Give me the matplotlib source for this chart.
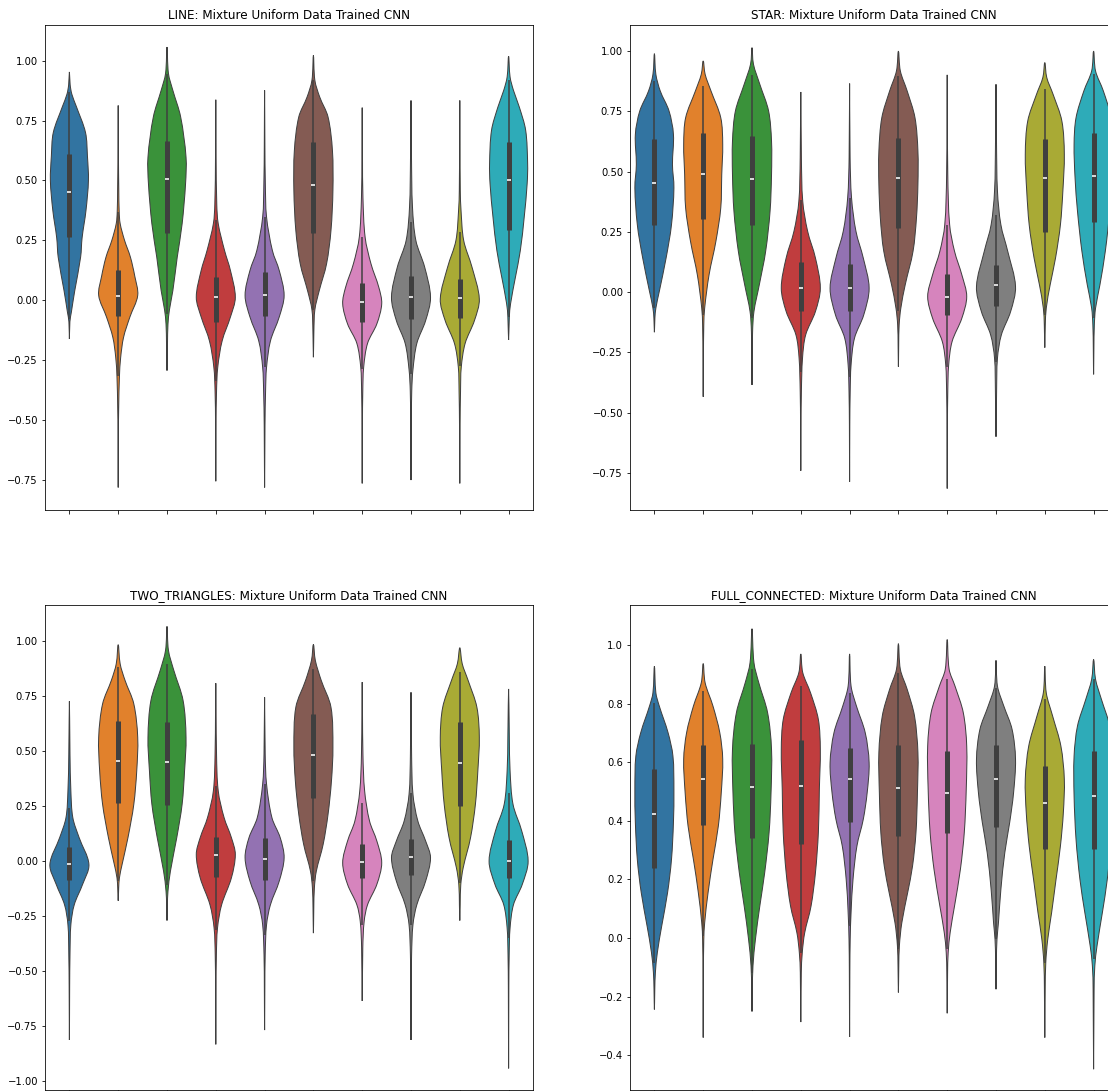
import matplotlib
matplotlib.use("Agg")
import matplotlib.pyplot as plt
import numpy as np
from matplotlib.path import Path
from matplotlib.patches import PathPatch

# seaborn-style desaturated tab10 colours
COLORS = ["#3274a1", "#e1812c", "#3a923a", "#c03d3e", "#9372b2",
          "#845b53", "#d684bd", "#7f7f7f", "#a9aa35", "#2eabb8"]
LINE_COLOR = "#3f3f3f"

TITLES = [
    "LINE: Mixture Uniform Data Trained CNN",
    "STAR: Mixture Uniform Data Trained CNN",
    "TWO_TRIANGLES: Mixture Uniform Data Trained CNN",
    "FULL_CONNECTED: Mixture Uniform Data Trained CNN",
]

# ---- LINE: density profiles (value, half width) and box stats ----
LINE_LEVELS = [
    [-0.162, -0.09, -0.05, 0.04, 0.18, 0.26, 0.375, 0.50, 0.60, 0.70, 0.81, 0.86, 0.90, 0.953],
    [-0.782, -0.55, -0.45, -0.32, -0.24, -0.155, -0.07, 0.02, 0.10, 0.18, 0.25, 0.32, 0.37, 0.46, 0.60, 0.813],
    [-0.294, -0.18, -0.10, -0.04, 0.04, 0.18, 0.319, 0.486, 0.597, 0.765, 0.876, 0.946, 1.057],
    [-0.756, -0.52, -0.38, -0.28, -0.17, -0.07, 0.012, 0.124, 0.207, 0.319, 0.40, 0.60, 0.837],
    [-0.782, -0.52, -0.38, -0.28, -0.17, -0.07, 0.02, 0.124, 0.207, 0.347, 0.486, 0.65, 0.876],
    [-0.238, -0.127, -0.04, 0.04, 0.152, 0.291, 0.458, 0.625, 0.765, 0.848, 0.918, 1.022],
    [-0.765, -0.52, -0.38, -0.28, -0.18, -0.099, -0.015, 0.054, 0.152, 0.263, 0.43, 0.60, 0.804],
    [-0.751, -0.52, -0.38, -0.29, -0.18, -0.085, 0.012, 0.138, 0.249, 0.39, 0.597, 0.834],
    [-0.765, -0.52, -0.38, -0.28, -0.18, -0.085, 0.005, 0.138, 0.249, 0.375, 0.458, 0.65, 0.834],
    [-0.166, -0.07, -0.015, 0.096, 0.207, 0.347, 0.486, 0.57, 0.709, 0.806, 0.876, 0.932, 1.019],
]
LINE_WIDTHS = [
    [0, 0.01, 0.04, 0.11, 0.23, 0.26, 0.34, 0.39, 0.37, 0.33, 0.14, 0.05, 0.015, 0],
    [0, 0.004, 0.01, 0.025, 0.05, 0.11, 0.24, 0.40, 0.34, 0.25, 0.13, 0.04, 0.02, 0.012, 0.005, 0],
    [0, 0.01, 0.02, 0.05, 0.12, 0.21, 0.31, 0.38, 0.39, 0.28, 0.12, 0.03, 0],
    [0, 0.005, 0.015, 0.04, 0.13, 0.30, 0.40, 0.30, 0.18, 0.05, 0.02, 0.006, 0],
    [0, 0.008, 0.02, 0.04, 0.12, 0.30, 0.40, 0.30, 0.16, 0.04, 0.015, 0.006, 0],
    [0, 0.01, 0.03, 0.12, 0.27, 0.36, 0.40, 0.39, 0.30, 0.13, 0.03, 0],
    [0, 0.005, 0.012, 0.03, 0.11, 0.30, 0.40, 0.34, 0.18, 0.06, 0.015, 0.006, 0],
    [0, 0.006, 0.015, 0.04, 0.12, 0.30, 0.40, 0.28, 0.10, 0.03, 0.01, 0],
    [0, 0.006, 0.015, 0.03, 0.11, 0.30, 0.40, 0.25, 0.08, 0.025, 0.01, 0.005, 0],
    [0, 0.015, 0.04, 0.14, 0.24, 0.32, 0.38, 0.39, 0.35, 0.22, 0.10, 0.03, 0],
]
LINE_Q1 = [0.263, -0.068, 0.280, -0.092, -0.064, 0.280, -0.092, -0.078, -0.075, 0.295]
LINE_MED = [0.451, 0.019, 0.507, 0.012, 0.022, 0.479, -0.008, 0.012, 0.010, 0.500]
LINE_Q3 = [0.611, 0.127, 0.664, 0.096, 0.117, 0.660, 0.071, 0.099, 0.089, 0.660]
LINE_WLO = [-0.08, -0.315, -0.057, -0.336, -0.28, -0.04, -0.287, -0.308, -0.273, -0.07]
LINE_WHI = [0.87, 0.367, 0.946, 0.333, 0.347, 0.918, 0.263, 0.326, 0.284, 0.918]

# ---- STAR ----
STAR_LEVELS = [
    [-0.166, -0.108, -0.066, 0.003, 0.142, 0.28, 0.433, 0.530, 0.655, 0.752, 0.835, 0.904, 0.990],
    [-0.434, -0.274, -0.136, -0.066, 0.072, 0.211, 0.35, 0.488, 0.613, 0.724, 0.835, 0.904, 0.960],
    [-0.385, -0.274, -0.163, -0.08, 0.031, 0.17, 0.336, 0.488, 0.627, 0.752, 0.863, 0.946, 1.015],
    [-0.741, -0.55, -0.413, -0.274, -0.177, -0.08, 0.017, 0.142, 0.253, 0.377, 0.558, 0.831],
    [-0.787, -0.55, -0.413, -0.302, -0.191, -0.094, 0.017, 0.142, 0.253, 0.391, 0.558, 0.866],
    [-0.309, -0.22, -0.136, -0.066, 0.031, 0.17, 0.308, 0.447, 0.585, 0.724, 0.835, 0.918, 1.001],
    [-0.815, -0.55, -0.413, -0.302, -0.205, -0.108, -0.018, 0.072, 0.17, 0.28, 0.488, 0.902],
    [-0.60, -0.413, -0.274, -0.177, -0.08, 0.024, 0.17, 0.28, 0.419, 0.627, 0.863],
    [-0.23, -0.136, -0.066, 0.031, 0.142, 0.28, 0.419, 0.572, 0.71, 0.821, 0.891, 0.953],
    [-0.341, -0.232, -0.136, -0.066, 0.031, 0.17, 0.336, 0.475, 0.613, 0.724, 0.835, 0.918, 1.001],
]
STAR_WIDTHS = [
    [0, 0.01, 0.03, 0.10, 0.24, 0.35, 0.40, 0.37, 0.39, 0.30, 0.12, 0.03, 0],
    [0, 0.005, 0.012, 0.03, 0.12, 0.26, 0.36, 0.38, 0.40, 0.36, 0.16, 0.04, 0],
    [0, 0.005, 0.012, 0.04, 0.15, 0.28, 0.37, 0.40, 0.40, 0.34, 0.16, 0.03, 0],
    [0, 0.005, 0.012, 0.035, 0.10, 0.30, 0.40, 0.30, 0.14, 0.04, 0.012, 0],
    [0, 0.004, 0.012, 0.03, 0.10, 0.29, 0.40, 0.28, 0.13, 0.04, 0.01, 0],
    [0, 0.006, 0.015, 0.05, 0.14, 0.30, 0.37, 0.40, 0.40, 0.34, 0.18, 0.04, 0],
    [0, 0.005, 0.012, 0.03, 0.10, 0.30, 0.40, 0.30, 0.15, 0.05, 0.012, 0],
    [0, 0.012, 0.03, 0.11, 0.30, 0.40, 0.24, 0.10, 0.03, 0.01, 0],
    [0, 0.01, 0.03, 0.11, 0.22, 0.32, 0.37, 0.40, 0.35, 0.17, 0.04, 0],
    [0, 0.006, 0.015, 0.04, 0.13, 0.24, 0.33, 0.38, 0.40, 0.36, 0.20, 0.04, 0],
]
STAR_Q1 = [0.278, 0.305, 0.278, -0.076, -0.08, 0.267, -0.094, -0.059, 0.25, 0.292]
STAR_MED = [0.454, 0.491, 0.470, 0.017, 0.017, 0.472, -0.018, 0.028, 0.475, 0.481]
STAR_Q3 = [0.634, 0.662, 0.648, 0.125, 0.118, 0.641, 0.075, 0.114, 0.637, 0.662]
STAR_WLO = [-0.066, -0.094, -0.108, -0.33, -0.35, -0.08, -0.309, -0.288, -0.094, -0.108]
STAR_WHI = [0.877, 0.855, 0.90, 0.384, 0.39, 0.897, 0.28, 0.322, 0.842, 0.904]

# ---- TWO_TRIANGLES ----
TT_LEVELS = [
    [-0.812, -0.577, -0.425, -0.289, -0.198, -0.106, -0.015, 0.106, 0.197, 0.318, 0.485, 0.725],
    [-0.18, -0.122, -0.076, -0.015, 0.106, 0.258, 0.41, 0.561, 0.713, 0.82, 0.895, 0.982],
    [-0.27, -0.198, -0.137, -0.046, 0.106, 0.258, 0.41, 0.561, 0.728, 0.865, 0.956, 1.065],
    [-0.832, -0.577, -0.425, -0.304, -0.198, -0.076, 0.03, 0.106, 0.197, 0.318, 0.485, 0.807],
    [-0.767, -0.577, -0.425, -0.289, -0.198, -0.091, 0.015, 0.106, 0.197, 0.349, 0.485, 0.743],
    [-0.327, -0.213, -0.122, -0.046, 0.076, 0.212, 0.364, 0.516, 0.698, 0.82, 0.91, 0.983],
    [-0.635, -0.395, -0.274, -0.198, -0.106, -0.008, 0.091, 0.182, 0.318, 0.485, 0.812],
    [-0.812, -0.577, -0.425, -0.289, -0.198, -0.091, 0.015, 0.091, 0.182, 0.303, 0.485, 0.766],
    [-0.27, -0.198, -0.107, -0.03, 0.106, 0.258, 0.41, 0.561, 0.698, 0.82, 0.895, 0.968],
    [-0.941, -0.577, -0.425, -0.304, -0.198, -0.106, 0.0, 0.136, 0.258, 0.41, 0.561, 0.781],
]
TT_WIDTHS = [
    [0, 0.005, 0.012, 0.03, 0.10, 0.27, 0.40, 0.20, 0.07, 0.03, 0.012, 0],
    [0, 0.01, 0.025, 0.08, 0.20, 0.32, 0.38, 0.40, 0.32, 0.14, 0.04, 0],
    [0, 0.008, 0.02, 0.07, 0.20, 0.31, 0.36, 0.39, 0.33, 0.14, 0.03, 0],
    [0, 0.005, 0.012, 0.035, 0.12, 0.32, 0.40, 0.32, 0.17, 0.05, 0.015, 0],
    [0, 0.005, 0.012, 0.04, 0.12, 0.30, 0.40, 0.32, 0.15, 0.04, 0.012, 0],
    [0, 0.008, 0.02, 0.06, 0.20, 0.30, 0.37, 0.40, 0.36, 0.16, 0.04, 0],
    [0, 0.012, 0.04, 0.11, 0.30, 0.40, 0.30, 0.15, 0.05, 0.015, 0],
    [0, 0.005, 0.012, 0.04, 0.12, 0.30, 0.40, 0.30, 0.14, 0.04, 0.012, 0],
    [0, 0.008, 0.02, 0.07, 0.22, 0.32, 0.37, 0.40, 0.35, 0.17, 0.05, 0],
    [0, 0.005, 0.012, 0.03, 0.10, 0.28, 0.40, 0.27, 0.09, 0.03, 0.015, 0],
]
TT_Q1 = [-0.084, 0.262, 0.255, -0.072, -0.084, 0.285, -0.079, -0.064, 0.25, -0.079]
TT_MED = [-0.015, 0.455, 0.451, 0.027, 0.01, 0.482, -0.003, 0.02, 0.443, 0.0]
TT_Q3 = [0.064, 0.634, 0.630, 0.109, 0.106, 0.668, 0.076, 0.101, 0.630, 0.094]
TT_WLO = [-0.274, -0.091, -0.107, -0.312, -0.334, -0.091, -0.289, -0.289, -0.099, -0.349]
TT_WHI = [0.243, 0.88, 0.895, 0.341, 0.349, 0.872, 0.265, 0.311, 0.857, 0.311]

# ---- FULL_CONNECTED ----
FC_LEVELS = [
    [-0.244, -0.175, -0.118, -0.05, 0.041, 0.155, 0.268, 0.394, 0.507, 0.621, 0.701, 0.792, 0.837, 0.928],
    [-0.34, -0.118, -0.005, 0.052, 0.155, 0.268, 0.382, 0.496, 0.61, 0.701, 0.792, 0.871, 0.937],
    [-0.251, -0.175, -0.095, -0.005, 0.109, 0.223, 0.36, 0.496, 0.644, 0.769, 0.871, 0.94, 1.056],
    [-0.287, -0.118, -0.05, 0.018, 0.109, 0.223, 0.36, 0.507, 0.644, 0.746, 0.837, 0.906, 0.97],
    [-0.338, -0.118, -0.005, 0.087, 0.2, 0.314, 0.405, 0.496, 0.598, 0.701, 0.792, 0.86, 0.97],
    [-0.186, -0.095, -0.027, 0.052, 0.155, 0.246, 0.36, 0.496, 0.633, 0.758, 0.849, 0.917, 1.005],
    [-0.257, -0.118, -0.05, 0.018, 0.109, 0.234, 0.36, 0.507, 0.655, 0.769, 0.86, 0.917, 1.019],
    [-0.175, -0.073, -0.005, 0.052, 0.166, 0.291, 0.394, 0.496, 0.61, 0.712, 0.792, 0.86, 0.948],
    [-0.34, -0.175, -0.084, -0.005, 0.087, 0.2, 0.314, 0.428, 0.542, 0.655, 0.758, 0.837, 0.928],
    [-0.448, -0.175, -0.095, -0.027, 0.087, 0.2, 0.337, 0.485, 0.621, 0.724, 0.815, 0.883, 0.951],
]
FC_WIDTHS = [
    [0, 0.008, 0.02, 0.06, 0.15, 0.27, 0.35, 0.39, 0.40, 0.38, 0.28, 0.10, 0.03, 0],
    [0, 0.005, 0.012, 0.03, 0.10, 0.20, 0.31, 0.37, 0.40, 0.34, 0.20, 0.04, 0],
    [0, 0.007, 0.02, 0.07, 0.16, 0.26, 0.35, 0.39, 0.40, 0.32, 0.14, 0.04, 0],
    [0, 0.01, 0.03, 0.08, 0.21, 0.30, 0.36, 0.38, 0.40, 0.36, 0.20, 0.04, 0],
    [0, 0.005, 0.012, 0.03, 0.07, 0.15, 0.28, 0.36, 0.40, 0.32, 0.14, 0.03, 0],
    [0, 0.008, 0.02, 0.07, 0.19, 0.29, 0.36, 0.39, 0.40, 0.33, 0.18, 0.04, 0],
    [0, 0.008, 0.02, 0.06, 0.15, 0.27, 0.35, 0.39, 0.40, 0.33, 0.16, 0.04, 0],
    [0, 0.008, 0.02, 0.05, 0.10, 0.18, 0.28, 0.36, 0.40, 0.33, 0.16, 0.03, 0],
    [0, 0.008, 0.02, 0.06, 0.14, 0.23, 0.32, 0.38, 0.40, 0.33, 0.16, 0.03, 0],
    [0, 0.01, 0.025, 0.07, 0.18, 0.28, 0.36, 0.40, 0.40, 0.33, 0.16, 0.04, 0],
]
FC_Q1 = [0.24, 0.386, 0.342, 0.32, 0.397, 0.348, 0.357, 0.38, 0.305, 0.305]
FC_MED = [0.422, 0.542, 0.517, 0.519, 0.542, 0.512, 0.496, 0.542, 0.462, 0.485]
FC_Q3 = [0.576, 0.658, 0.664, 0.675, 0.65, 0.658, 0.638, 0.659, 0.587, 0.638]
FC_WLO = [-0.084, 0.007, -0.118, -0.05, 0.041, -0.039, -0.039, -0.005, -0.084, -0.073]
FC_WHI = [0.803, 0.843, 0.917, 0.86, 0.837, 0.906, 0.883, 0.854, 0.815, 0.883]

PANELS = [
    (LINE_LEVELS, LINE_WIDTHS, LINE_Q1, LINE_MED, LINE_Q3, LINE_WLO, LINE_WHI),
    (STAR_LEVELS, STAR_WIDTHS, STAR_Q1, STAR_MED, STAR_Q3, STAR_WLO, STAR_WHI),
    (TT_LEVELS, TT_WIDTHS, TT_Q1, TT_MED, TT_Q3, TT_WLO, TT_WHI),
    (FC_LEVELS, FC_WIDTHS, FC_Q1, FC_MED, FC_Q3, FC_WLO, FC_WHI),
]
YLIMS = [(-0.876, 1.149), (-0.904, 1.109), (-1.039, 1.162), (-0.519, 1.137)]
YTICKS = [
    [-0.75, -0.5, -0.25, 0.0, 0.25, 0.5, 0.75, 1.0],
    [-0.75, -0.5, -0.25, 0.0, 0.25, 0.5, 0.75, 1.0],
    [-1.0, -0.75, -0.5, -0.25, 0.0, 0.25, 0.5, 0.75, 1.0],
    [-0.4, -0.2, 0.0, 0.2, 0.4, 0.6, 0.8, 1.0],
]


def violin_path(pos, levels, widths, yscale):
    """Closed outline through the profile knots, drawn as smooth bezier segments."""
    xs = [pos + w for w in widths] + [pos - w for w in widths[-2:0:-1]]
    ys = list(levels) + list(levels[-2:0:-1])
    pts = np.column_stack([xs, ys])
    n = len(pts)
    nxt = np.roll(pts, -1, axis=0)
    # chord lengths measured in (roughly) screen proportions
    d = np.hypot(nxt[:, 0] - pts[:, 0], (nxt[:, 1] - pts[:, 1]) * yscale)
    d = np.maximum(d, 1e-6)
    tang = (np.roll(pts, -1, axis=0) - np.roll(pts, 1, axis=0)) / (d + np.roll(d, 1))[:, None]
    verts = [pts[0]]
    codes = [Path.MOVETO]
    for i in range(n):
        j = (i + 1) % n
        verts += [pts[i] + tang[i] * d[i] / 3, pts[j] - tang[j] * d[i] / 3, pts[j]]
        codes += [Path.CURVE4] * 3
    return Path(verts, codes)


W, H = 1108, 1091
fig = plt.figure(figsize=(W / 72, H / 72), dpi=72)

# axes boxes in pixels: left, top, width, height
boxes = [(45, 25, 488, 485), (630, 25, 488, 485), (45, 605, 488, 485), (630, 605, 488, 485)]

for k, (levels, widths, q1, med, q3, wlo, whi) in enumerate(PANELS):
    left, top, bw, bh = boxes[k]
    ax = fig.add_axes([left / W, 1 - (top + bh) / H, bw / W, bh / H])
    pos = list(range(len(levels)))
    ylo, yhi = YLIMS[k]
    # pixels per y unit relative to pixels per x unit
    yscale = (bh / (yhi - ylo)) / (bw / len(levels))

    for i, (lv, wd) in enumerate(zip(levels, widths)):
        patch = PathPatch(violin_path(i, lv, wd, yscale), facecolor=COLORS[i],
                          edgecolor=LINE_COLOR, lw=1.0, zorder=1)
        ax.add_patch(patch)

    ax.vlines(pos, wlo, whi, color=LINE_COLOR, lw=1.5, zorder=2)
    ax.vlines(pos, q1, q3, color=LINE_COLOR, lw=5, zorder=3)
    ax.plot(pos, med, ls="none", marker="_", ms=3.5, mew=1.6, color="white", zorder=4)

    ax.set_xlim(-0.5, len(levels) - 0.5)
    ax.set_ylim(ylo, yhi)
    ax.set_yticks(YTICKS[k])
    ax.set_xticks(pos)
    ax.set_xticklabels([])
    ax.set_title(TITLES[k])

fig.savefig("out.png", dpi=72)
plt.close(fig)
